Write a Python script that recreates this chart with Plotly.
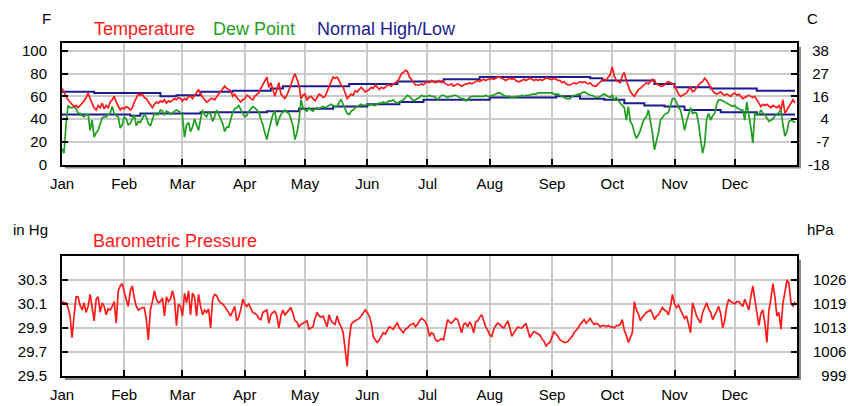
import pandas as pd
import plotly.graph_objects as go

# Daily observations for 2008 (leap year), one value per day
temp_f = [
    67, 63, 60, 57, 55, 53, 51, 52, 50, 52, 54, 56, 59, 63, 58, 54, 50, 48, 52, 50, 54, 49, 52, 50, 55, 57, 60, 55, 51, 48, 50,
    49, 51, 50, 48, 50, 55, 58, 62, 61, 62, 59, 58, 55, 52, 50, 53, 55, 54, 56, 55, 57, 54, 56, 55, 57, 58, 57, 59, 58,
    56, 58, 57, 60, 60, 58, 61, 63, 66, 62, 59, 57, 55, 56, 58, 58, 57, 60, 62, 64, 67, 69, 67, 66, 65, 60, 62, 59, 57, 55, 57,
    58, 61, 60, 58, 57, 60, 62, 63, 67, 70, 74, 77, 68, 72, 66, 60, 66, 72, 62, 60, 58, 61, 65, 70, 76, 80, 75, 70, 58, 61,
    62, 57, 59, 60, 58, 56, 59, 62, 61, 59, 60, 64, 68, 73, 77, 76, 77, 74, 70, 68, 62, 58, 60, 62, 61, 65, 64, 66, 68, 66, 64,
    65, 66, 68, 67, 70, 68, 66, 68, 67, 68, 70, 70, 69, 71, 72, 73, 76, 80, 81, 83, 82, 77, 75, 72, 70, 70, 70, 71, 70, 72,
    73, 72, 74, 73, 72, 73, 74, 72, 73, 71, 70, 70, 71, 69, 70, 71, 70, 69, 70, 71, 71, 72, 71, 72, 73, 74, 73, 74, 75, 74, 75,
    75, 76, 75, 76, 77, 77, 76, 75, 74, 75, 76, 75, 76, 74, 73, 73, 74, 75, 74, 75, 76, 75, 74, 75, 74, 75, 74, 75, 76, 76, 75,
    75, 76, 75, 74, 74, 72, 73, 71, 70, 70, 71, 72, 71, 72, 73, 72, 73, 72, 71, 72, 70, 69, 69, 71, 73, 74, 75, 74, 77, 79,
    86, 78, 74, 73, 72, 78, 81, 74, 68, 64, 62, 60, 63, 66, 67, 69, 70, 72, 71, 73, 75, 74, 71, 70, 69, 69, 70, 72, 73, 72, 71,
    70, 66, 62, 60, 61, 62, 63, 66, 68, 64, 65, 68, 70, 72, 73, 76, 74, 71, 67, 65, 63, 62, 63, 64, 62, 61, 62, 61, 60, 62,
    63, 61, 62, 60, 58, 59, 60, 61, 60, 59, 60, 57, 54, 51, 53, 52, 53, 51, 50, 52, 51, 50, 52, 48, 57, 45, 48, 51, 55, 57, 54,
]

dew_f = [
    14, 10, 35, 52, 50, 50, 51, 49, 45, 45, 43, 42, 44, 44, 30, 39, 24, 28, 30, 36, 41, 42, 42, 44, 45, 51, 45, 43, 42, 32, 35,
    42, 40, 35, 36, 40, 44, 34, 38, 37, 40, 44, 42, 36, 34, 40, 45, 44, 44, 48, 47, 44, 47, 46, 44, 45, 47, 48, 47, 46,
    43, 24, 35, 37, 29, 33, 40, 35, 30, 40, 48, 44, 42, 46, 44, 38, 42, 48, 44, 40, 36, 29, 33, 33, 40, 46, 49, 50, 52, 48, 45,
    42, 43, 47, 49, 51, 50, 48, 46, 40, 35, 28, 22, 30, 38, 44, 47, 34, 40, 44, 46, 48, 46, 45, 40, 34, 22, 28, 38, 57, 50,
    48, 47, 50, 48, 47, 49, 50, 49, 50, 51, 50, 51, 52, 53, 52, 51, 51, 55, 57, 53, 48, 45, 44, 47, 48, 50, 51, 52, 53, 52, 52,
    53, 52, 53, 52, 52, 53, 54, 54, 55, 54, 55, 56, 56, 57, 55, 54, 55, 56, 57, 59, 61, 60, 58, 56, 57, 58, 59, 61, 60, 60,
    60, 61, 60, 60, 59, 57, 59, 61, 61, 60, 59, 60, 60, 61, 61, 60, 59, 58, 58, 56, 57, 59, 60, 60, 60, 60, 60, 60, 60, 61, 60,
    60, 61, 61, 62, 63, 63, 62, 61, 60, 60, 60, 59, 59, 60, 60, 60, 61, 60, 61, 61, 61, 62, 62, 62, 63, 63, 63, 63, 63, 63, 63,
    63, 62, 62, 62, 61, 60, 59, 58, 58, 58, 60, 61, 61, 62, 62, 63, 64, 63, 62, 61, 61, 60, 59, 59, 60, 61, 62, 61, 60, 59,
    61, 57, 59, 56, 54, 52, 50, 39, 51, 38, 35, 28, 23, 26, 30, 36, 40, 42, 48, 38, 28, 13, 20, 28, 39, 42, 44, 45, 46, 52, 58,
    58, 55, 50, 48, 40, 30, 38, 45, 50, 45, 46, 45, 36, 22, 10, 18, 40, 45, 39, 43, 45, 53, 57, 57, 56, 55, 54, 53, 52, 51,
    52, 50, 49, 48, 48, 39, 55, 45, 33, 19, 45, 44, 44, 48, 45, 44, 41, 38, 39, 40, 43, 44, 46, 48, 35, 25, 29, 38, 39, 38, 37,
]

pressure_inhg = [
    30.12, 30.11, 30.11, 30.07, 30.00, 29.82, 30.00, 30.16, 30.16, 30.09, 30.05, 30.11, 30.03, 30.08, 30.18, 30.05,
    29.96, 30.14, 30.16, 30.03, 30.11, 30.08, 30.01, 30.06, 30.05, 30.08, 30.12, 29.94, 30.21, 30.25, 30.27,
    30.20, 30.14, 30.08, 30.21, 30.25, 30.15, 30.08, 30.05, 30.06, 30.07, 30.07, 29.97, 29.80, 30.05, 30.12,
    30.21, 30.14, 30.11, 30.12, 30.15, 30.00, 30.16, 30.12, 30.14, 30.21, 30.14, 29.92, 30.10, 30.08,
    30.00, 30.19, 30.11, 30.21, 30.01, 30.19, 30.16, 30.00, 30.18, 30.08, 30.01, 30.05, 30.03, 30.06, 29.90, 30.14,
    30.18, 30.17, 30.13, 30.11, 30.10, 30.08, 30.05, 30.03, 30.00, 30.04, 30.08, 29.96, 29.99, 30.05, 30.14,
    30.10, 30.08, 30.10, 30.06, 30.03, 30.02, 30.01, 29.98, 29.97, 30.03, 30.04, 30.05, 29.94, 30.01, 30.03,
    30.04, 30.00, 29.90, 30.00, 30.05, 30.01, 30.03, 30.05, 30.07, 30.02, 29.96, 29.95, 29.91, 29.93, 29.94,
    29.95, 29.96, 29.89, 29.90, 29.91, 29.98, 30.03, 30.00, 29.99, 30.00, 29.95, 29.91, 30.01, 29.96, 29.94, 29.93,
    30.00, 29.94, 29.91, 29.86, 29.72, 29.58, 29.80, 29.93, 29.95, 29.96, 29.97, 29.98, 30.00, 30.03, 30.05,
    30.03, 30.00, 29.94, 29.83, 29.80, 29.78, 29.80, 29.83, 29.86, 29.85, 29.88, 29.91, 29.90, 29.89, 29.92,
    29.94, 29.90, 29.88, 29.86, 29.89, 29.90, 29.92, 29.93, 29.94, 29.91, 29.93, 29.96, 29.98, 29.97, 29.95,
    29.91, 29.83, 29.86, 29.85, 29.80, 29.79, 29.80, 29.81, 29.80, 29.90, 29.97, 29.95, 29.94, 29.96, 29.98, 29.97,
    29.92, 29.86, 29.93, 29.94, 29.91, 29.95, 29.92, 29.86, 29.95, 29.96, 29.99, 30.01, 29.96, 29.91, 29.88,
    29.84, 29.83, 29.89, 29.92, 29.94, 29.93, 29.91, 29.90, 29.93, 29.96, 29.90, 29.83, 29.86, 29.89, 29.91, 29.90,
    29.90, 29.92, 29.94, 29.88, 29.82, 29.85, 29.87, 29.86, 29.85, 29.84, 29.81, 29.79, 29.75, 29.77, 29.78,
    29.82, 29.87, 29.85, 29.83, 29.80, 29.79, 29.78, 29.78, 29.79, 29.81, 29.83, 29.86, 29.88, 29.90, 29.93,
    29.95, 29.97, 29.94, 29.96, 29.98, 29.95, 29.93, 29.94, 29.93, 29.91, 29.92, 29.92, 29.91, 29.92, 29.91,
    29.91, 29.90, 29.92, 29.92, 29.93, 29.97, 29.88, 29.84, 29.78, 29.82, 29.86, 30.12, 30.05, 30.02, 29.96, 29.99,
    30.01, 30.03, 30.04, 30.05, 30.02, 29.97, 30.00, 30.01, 30.04, 30.07, 30.05, 30.04, 30.01, 30.08, 30.18,
    30.10, 30.07, 30.09, 30.05, 30.02, 29.98, 30.00, 29.93, 29.86, 30.11, 30.05, 30.00, 29.97, 29.94, 30.03,
    30.07, 30.11, 30.06, 30.03, 29.97, 30.00, 30.04, 30.08, 30.02, 29.90, 29.96, 30.08, 30.14, 30.12, 30.11,
    30.10, 30.12, 30.12, 30.10, 30.08, 30.14, 30.10, 30.05, 30.16, 30.25, 30.14, 30.03, 29.92, 30.02, 30.05, 29.94,
    29.78, 30.05, 30.14, 30.27, 30.16, 30.00, 30.03, 29.89, 30.11, 30.20, 30.30, 30.27, 30.11, 30.08, 30.12,
]

# Climate normals change in whole-degree steps: (day of year, value from that day on)
normal_high_steps = [(0, 64), (16, 63), (49, 60), (57, 61), (69, 64), (85, 65), (104, 67), (110, 69),
                     (143, 71), (167, 73), (190, 75), (208, 77), (263, 76), (269, 74), (295, 71),
                     (305, 68), (323, 67), (346, 65)]
normal_low_steps = [(0, 44), (34, 43), (39, 45), (69, 46), (102, 47), (118, 49), (135, 51), (152, 53),
                    (168, 55), (180, 57), (213, 59), (246, 60), (258, 58), (270, 57), (280, 54),
                    (290, 52), (300, 51), (310, 48), (328, 46), (346, 44)]

month_names = ["Jan", "Feb", "Mar", "Apr", "May", "Jun", "Jul", "Aug", "Sep", "Oct", "Nov", "Dec"]
temp_ticks_f = [0, 20, 40, 60, 80, 100]
pressure_ticks_inhg = [29.5, 29.7, 29.9, 30.1, 30.3]

RED = "#ff1a1a"
GREEN = "#1f9f1f"
NAVY = "#1c1c8e"
GRID = "#cacaca"
FONT = "Liberation Sans, Arial, sans-serif"

days = pd.date_range("2008-01-01", periods=len(temp_f), freq="D")
year_end = pd.Timestamp("2009-01-01")
month_starts = pd.date_range("2008-01-01", periods=12, freq="MS")


def step_xy(steps):
    xs = [days[d] for d, _ in steps] + [days[-1]]
    ys = [v for _, v in steps] + [steps[-1][1]]
    return xs, ys


fig = go.Figure()

for steps in (normal_high_steps, normal_low_steps):
    sx, sy = step_xy(steps)
    fig.add_trace(go.Scatter(x=sx, y=sy, mode="lines", line=dict(color=NAVY, width=2, shape="hv"),
                             xaxis="x", yaxis="y", showlegend=False))
fig.add_trace(go.Scatter(x=days, y=dew_f, mode="lines", line=dict(color=GREEN, width=1.7),
                         xaxis="x", yaxis="y", showlegend=False))
fig.add_trace(go.Scatter(x=days, y=temp_f, mode="lines", line=dict(color=RED, width=1.7),
                         xaxis="x", yaxis="y", showlegend=False))
fig.add_trace(go.Scatter(x=days, y=pressure_inhg, mode="lines", line=dict(color=RED, width=1.7),
                         xaxis="x2", yaxis="y3", showlegend=False))
# empty traces so the secondary (metric) axes get drawn
fig.add_trace(go.Scatter(x=[], y=[], xaxis="x", yaxis="y2", showlegend=False))
fig.add_trace(go.Scatter(x=[], y=[], xaxis="x2", yaxis="y4", showlegend=False))

FIG_W, FIG_H = 848, 406
M_L, M_R, M_T, M_B = 62, 51, 43, 30
PW, PH = FIG_W - M_L - M_R, FIG_H - M_T - M_B


def px(x):
    return (x - M_L) / PW


def py(y):
    return (FIG_H - M_B - y) / PH


top_domain = [py(164.5), 1.0]
bot_domain = [0.0, py(256)]

tick_font = dict(family=FONT, size=15, color="black")

xcommon = dict(type="date", range=[days[0], year_end], tickmode="array",
               tickvals=month_starts, ticktext=month_names,
               ticks="inside", ticklen=6, tickwidth=2, tickcolor="black",
               showgrid=True, gridcolor=GRID, gridwidth=2,
               showline=True, linecolor="black", linewidth=2, mirror=True,
               tickfont=tick_font, ticklabelstandoff=4, automargin=False)
ycommon = dict(ticks="inside", ticklen=6, tickwidth=2, tickcolor="black",
               showgrid=True, gridcolor=GRID, gridwidth=2, zeroline=False,
               showline=True, linecolor="black", linewidth=2, mirror=True,
               tickfont=tick_font, ticklabelstandoff=10, automargin=False)
yright = dict(side="right", ticks="inside", ticklen=6, tickwidth=2, tickcolor="black",
              showgrid=False, zeroline=False, showline=False, tickfont=tick_font, automargin=False)

celsius_labels = []
for f in temp_ticks_f:
    c = str(round((f - 32) * 5 / 9))
    pad = 3 - len(c)
    celsius_labels.append("\u2007" * pad + c if c.startswith("-") or pad == 0 else
                          "\u2008" + "\u2007" * (pad - 1) + c)
hpa_labels = [str(round(p * 33.8639)).rjust(4, "\u2007") for p in pressure_ticks_inhg]

fig.update_layout(
    width=FIG_W, height=FIG_H,
    margin=dict(l=M_L, r=M_R, t=M_T, b=M_B, autoexpand=False),
    paper_bgcolor="white", plot_bgcolor="white",
    font=dict(family=FONT, color="black"),
    xaxis=dict(domain=[0, 1], anchor="y", **xcommon),
    yaxis=dict(domain=top_domain, anchor="x", range=[0, 107], tickvals=temp_ticks_f, **ycommon),
    yaxis2=dict(overlaying="y", anchor="x", range=[0, 107], tickvals=temp_ticks_f,
                ticktext=celsius_labels, ticklabelstandoff=10, **yright),
    xaxis2=dict(domain=[0, 1], anchor="y3", **xcommon),
    yaxis3=dict(domain=bot_domain, anchor="x2", range=[29.5, 30.5], tickvals=pressure_ticks_inhg,
                ticktext=[f"{p:.1f}" for p in pressure_ticks_inhg], **ycommon),
    yaxis4=dict(overlaying="y3", anchor="x2", range=[29.5, 30.5], tickvals=pressure_ticks_inhg,
                ticktext=hpa_labels, ticklabelstandoff=15, **yright),
)

# drop shadow along the right and bottom edges of each panel
SHADOW = "#8a8a8a"
for xr, yr in (("x domain", "y domain"), ("x2 domain", "y3 domain")):
    fig.add_shape(type="rect", xref=xr, yref=yr, xsizemode="pixel", xanchor=1, x0=1, x1=4,
                  y0=-0.03, y1=0.97, line_width=0, fillcolor=SHADOW, layer="below")
    fig.add_shape(type="rect", xref=xr, yref=yr, ysizemode="pixel", yanchor=0, y0=-1, y1=-4,
                  x0=0.004, x1=1.005, line_width=0, fillcolor=SHADOW, layer="below")


def label(text, x, y, size=15, color="black", xanchor="left"):
    fig.add_annotation(text=text, x=px(x), y=py(y), xref="paper", yref="paper",
                       xanchor=xanchor, yanchor="middle", showarrow=False,
                       font=dict(family=FONT, size=size, color=color))


label("F", 46, 18, xanchor="center")
label("C", 812, 18, xanchor="center")
label("in Hg", 50, 229, xanchor="right")
label("hPa", 805, 229)
label("Temperature", 92, 29, size=18, color=RED)
label("Dew Point", 211, 29, size=18, color=GREEN)
label("Normal High/Low", 315, 29, size=18, color=NAVY)
label("Barometric Pressure", 91, 241, size=18, color=RED)

fig.write_html("out.html")
